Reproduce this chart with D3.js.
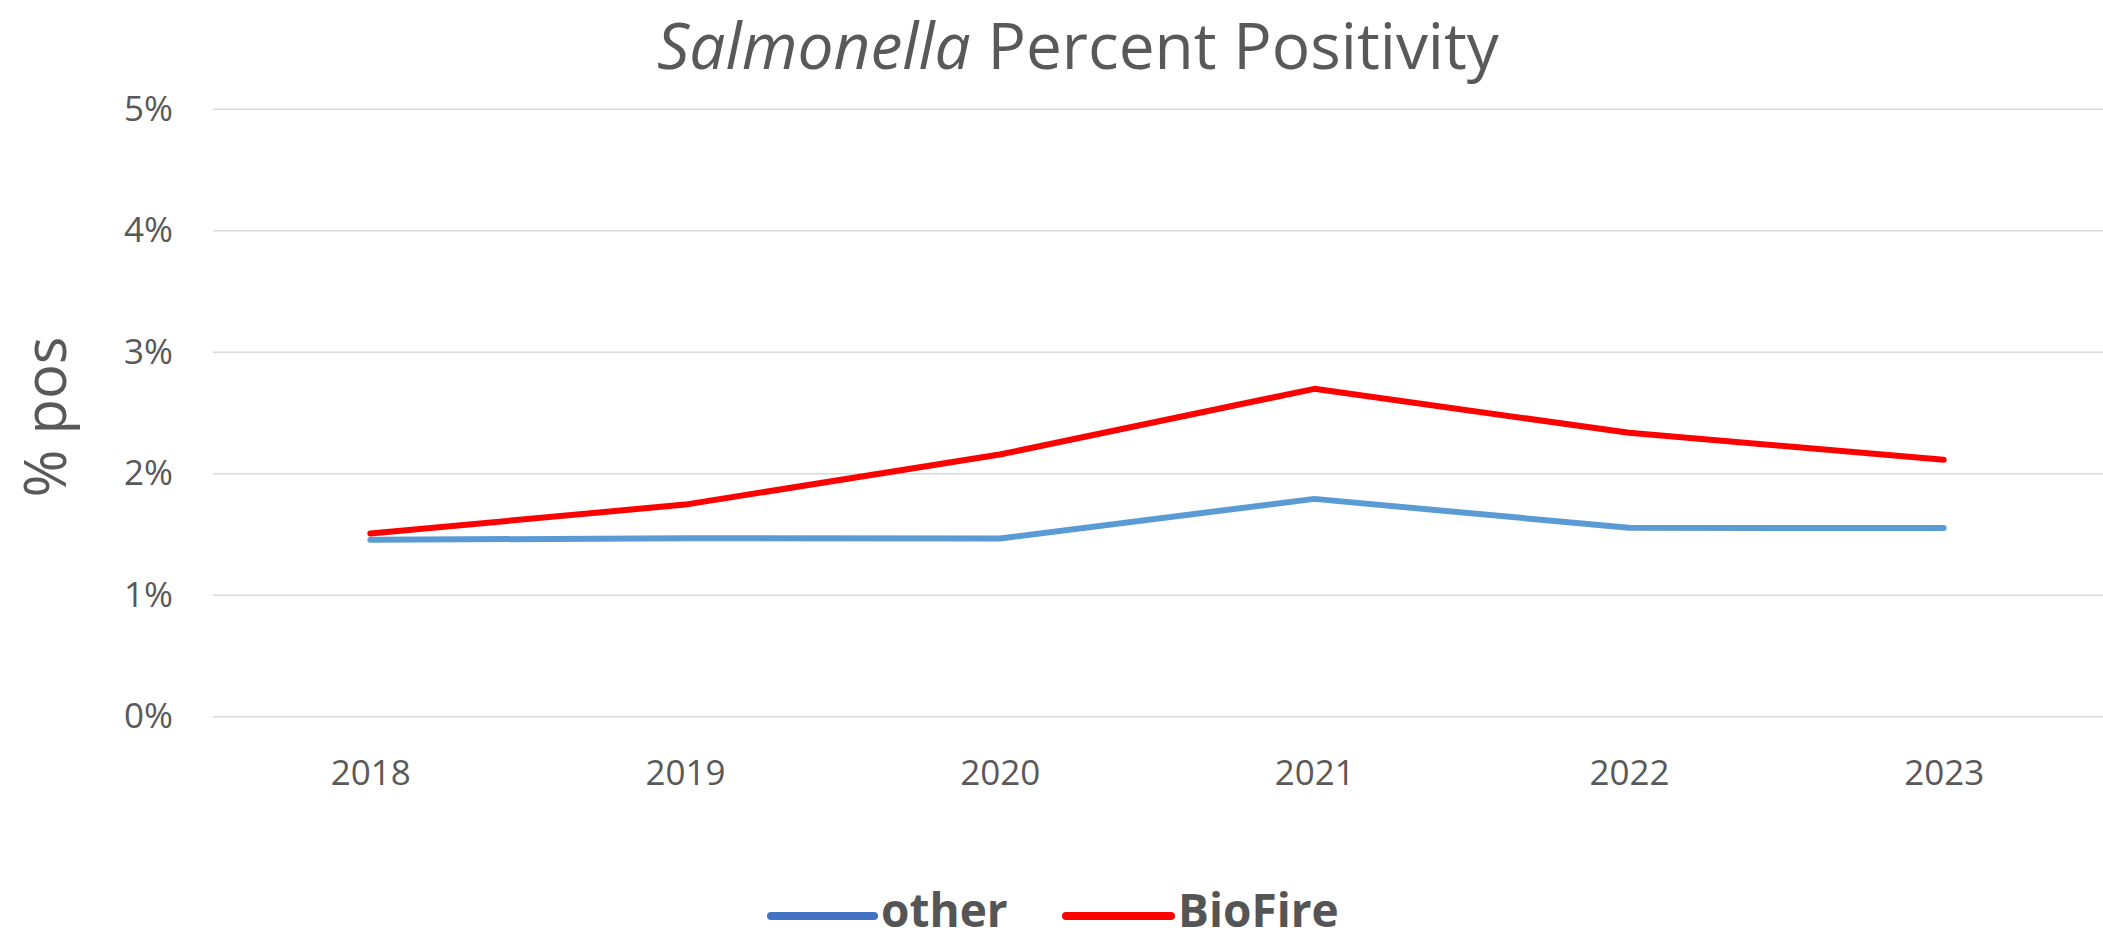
<!DOCTYPE html>
<html>
<head>
<meta charset="utf-8">
<script src="https://cdn.jsdelivr.net/npm/d3@7"></script>
<style>
  html, body { margin: 0; padding: 0; background: #fff; }
  svg { display: block; }
</style>
</head>
<body>
<svg id="chart" width="2103" height="940"></svg>
<script>
// ---- data ----
const years = ["2018", "2019", "2020", "2021", "2022", "2023"];
const otherValues = [0.01456, 0.01469, 0.01467, 0.01793, 0.01555, 0.01553];
const biofireValues = [0.01508, 0.01746, 0.02158, 0.02699, 0.02337, 0.02115];
const yTickValues = [0, 0.01, 0.02, 0.03, 0.04, 0.05];
const seriesNames = ["other", "BioFire"];

// ---- layout ----
const W = 2103, H = 940;
const plot = { left: 213, right: 2101, top: 109.3, bottom: 716.7 };
const textColor = "#595959";
const font = "'Open Sans', 'Noto Sans', sans-serif";

const svg = d3.select("#chart");

const x = d3.scalePoint().domain(years).range([plot.left, plot.right]).padding(0.5);
const y = d3.scaleLinear().domain([0, 0.05]).range([plot.bottom, plot.top]);

// gridlines
svg.append("g")
  .selectAll("line")
  .data(yTickValues)
  .join("line")
  .attr("x1", plot.left)
  .attr("x2", plot.right + 2)
  .attr("y1", d => y(d))
  .attr("y2", d => y(d))
  .attr("stroke", "#d9d9d9")
  .attr("stroke-width", 1.5);

// y axis labels
const yAxis = svg.append("g")
  .attr("transform", `translate(${plot.left},0)`)
  .call(d3.axisLeft(y).tickValues(yTickValues).tickFormat(d3.format(".0%")).tickSize(0).tickPadding(40));
yAxis.select(".domain").remove();
yAxis.selectAll("text")
  .attr("fill", textColor)
  .style("font-family", font)
  .style("font-size", "35px");

// x axis labels
const xAxis = svg.append("g")
  .attr("transform", `translate(0,${plot.bottom})`)
  .call(d3.axisBottom(x).tickSize(0).tickPadding(0));
xAxis.select(".domain").remove();
xAxis.selectAll("text")
  .attr("fill", textColor)
  .attr("dy", 0)
  .attr("y", 68)
  .style("font-family", font)
  .style("font-size", "35px");

// lines
const line = d3.line().x((d, i) => x(years[i])).y(d => y(d));
const series = [
  { name: seriesNames[0], values: otherValues, color: "#5B9BD5", legendColor: "#4472C4" },
  { name: seriesNames[1], values: biofireValues, color: "#FF0000", legendColor: "#FF0000" }
];
svg.append("g")
  .selectAll("path")
  .data(series)
  .join("path")
  .attr("d", d => line(d.values))
  .attr("fill", "none")
  .attr("stroke", d => d.color)
  .attr("stroke-width", 6)
  .attr("stroke-linejoin", "round")
  .attr("stroke-linecap", "round");

// title
const title = svg.append("text")
  .attr("x", 1078)
  .attr("y", 69)
  .attr("text-anchor", "middle")
  .attr("fill", textColor)
  .style("font-family", font)
  .style("font-size", "64px");
title.append("tspan").style("font-style", "italic").text("Salmonella");
title.append("tspan").text(" Percent Positivity");

// y axis title
svg.append("text")
  .attr("transform", "translate(66,417) rotate(-90)")
  .attr("text-anchor", "middle")
  .attr("fill", textColor)
  .style("font-family", font)
  .style("font-size", "58px")
  .text("% pos");

// legend
const legendItems = [
  { x1: 771, x2: 874, tx: 881 },
  { x1: 1066, x2: 1171, tx: 1178 }
];
const lg = svg.append("g");
series.forEach((s, i) => {
  const p = legendItems[i];
  lg.append("line")
    .attr("x1", p.x1).attr("x2", p.x2)
    .attr("y1", 916).attr("y2", 916)
    .attr("stroke", s.legendColor)
    .attr("stroke-width", 8)
    .attr("stroke-linecap", "round");
  lg.append("text")
    .attr("x", p.tx)
    .attr("y", 927)
    .attr("fill", "#555555")
    .style("font-family", font)
    .style("font-weight", "bold")
    .style("font-size", "46px")
    .text(s.name);
});
</script>
</body>
</html>
